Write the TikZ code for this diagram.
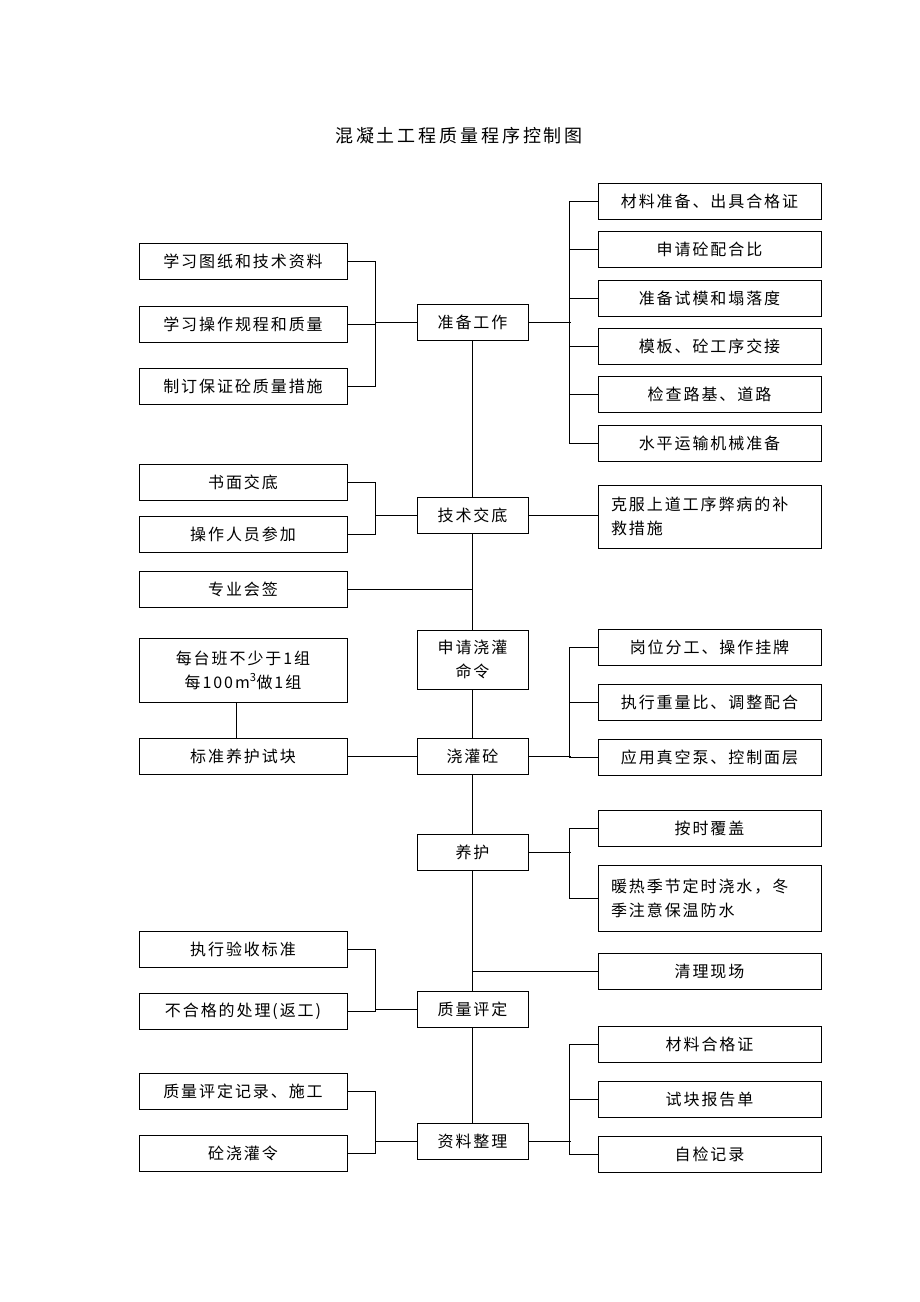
\documentclass[tikz,border=0pt]{standalone}
\usepackage{fontspec}
\setmainfont{Noto Sans CJK SC}[LetterSpace=12]
\begin{document}
\begin{tikzpicture}[x=1pt,y=-1pt]
\tikzset{
 box/.style={draw, line width=1pt, inner sep=0pt, minimum height=36, font=\fontsize{16}{24}\selectfont, align=center},
 lbox/.style={box, minimum width=208},
 mbox/.style={box, minimum width=111},
 rbox/.style={box, minimum width=223},
 link/.style={line width=1pt},
}
\useasboundingbox[fill=white] (0,0) rectangle (920,1302);
\node[font=\fontsize{18}{22}\selectfont\addfontfeature{LetterSpace=16}] (T) at (459,136) {混凝土工程质量程序控制图};
% left
\node[lbox] (L1) at (243,261.5) {学习图纸和技术资料};
\node[lbox] (L2) at (243,324) {学习操作规程和质量};
\node[lbox] (L3) at (243,386) {制订保证砼质量措施};
\node[lbox] (L4) at (243,482) {书面交底};
\node[lbox] (L5) at (243,534.5) {操作人员参加};
\node[lbox] (L6) at (243,589) {专业会签};
\node[lbox, minimum height=64] (L7) at (243,670) {每台班不少于1组\\每100m\textsuperscript{3}做1组};
\node[lbox] (L8) at (243,756) {标准养护试块};
\node[lbox] (L9) at (243,949) {执行验收标准};
\node[lbox] (L10) at (243,1011) {不合格的处理(返工)};
\node[lbox] (L11) at (243,1091.5) {质量评定记录、施工};
\node[lbox] (L12) at (243,1153.5) {砼浇灌令};
% middle
\node[mbox] (M1) at (472.5,322) {准备工作};
\node[mbox] (M2) at (472.5,515) {技术交底};
\node[mbox, minimum height=59] (M3) at (472.5,659.5) {申请浇灌\\命令};
\node[mbox] (M4) at (472.5,756) {浇灌砼};
\node[mbox] (M5) at (472.5,852) {养护};
\node[mbox] (M6) at (472.5,1009) {质量评定};
\node[mbox] (M7) at (472.5,1141) {资料整理};
% right
\node[rbox] (R1) at (709.5,201) {材料准备、出具合格证};
\node[rbox] (R2) at (709.5,249) {申请砼配合比};
\node[rbox] (R3) at (709.5,298) {准备试模和塌落度};
\node[rbox] (R4) at (709.5,346) {模板、砼工序交接};
\node[rbox] (R5) at (709.5,394.5) {检查路基、道路};
\node[rbox] (R6) at (709.5,443) {水平运输机械准备};
\node[rbox, minimum height=63, text width=197, align=left] (R7) at (709.5,516.5) {克服上道工序弊病的补\\救措施};
\node[rbox] (R8) at (709.5,647.5) {岗位分工、操作挂牌};
\node[rbox] (R9) at (709.5,702.5) {执行重量比、调整配合};
\node[rbox] (R10) at (709.5,757) {应用真空泵、控制面层};
\node[rbox] (R11) at (709.5,828) {按时覆盖};
\node[rbox, minimum height=66, text width=197, align=left] (R12) at (709.5,898) {暖热季节定时浇水，冬\\季注意保温防水};
\node[rbox] (R13) at (709.5,971.5) {清理现场};
\node[rbox] (R14) at (709.5,1044) {材料合格证};
\node[rbox] (R15) at (709.5,1099) {试块报告单};
\node[rbox] (R16) at (709.5,1154) {自检记录};
% central spine
\draw[link] (M1) -- (M2) -- (M3) -- (M4) -- (M5) -- (M6) -- (M7);
% M1
\draw[link] (L1.east) -- ++(28,0) |- (L3.east);
\draw[link] (L2.east) -- ++(28,0);
\draw[link] (M1.west) -- ++(-42,0);
\draw[link] (R1.west) -- ++(-28,0) |- (R6.west);
\foreach \r in {R2,R3,R4,R5} \draw[link] (\r.west) -- ++(-28,0);
\draw[link] (M1.east) -- ++(42,0);
% M2
\draw[link] (L4.east) -- ++(28,0) |- (L5.east);
\draw[link] (M2.west) -- ++(-42,0);
\draw[link] (M2.east) -- (M2.east -| R7.west);
\draw[link] (L6.east) -- (L6.east -| M2.south);
% M4
\draw[link] ([xshift=-7]L7.south) -- ([xshift=-7]L8.north);
\draw[link] (L8.east) -- (L8.east -| M4.west);
\draw[link] (R8.west) -- ++(-28,0) |- (R10.west);
\draw[link] (R9.west) -- ++(-28,0);
\draw[link] (M4.east) -- ++(42,0);
% M5
\draw[link] (R11.west) -- ++(-28,0) |- (R12.west);
\draw[link] (M5.east) -- ++(42,0);
\draw[link] (R13.west) -- (R13.west -| M5.south);
% M6
\draw[link] (L9.east) -- ++(28,0) |- (L10.east);
\draw[link] (M6.west) -- ++(-42,0);
% M7
\draw[link] (L11.east) -- ++(28,0) |- (L12.east);
\draw[link] (M7.west) -- ++(-42,0);
\draw[link] (R14.west) -- ++(-28,0) |- (R16.west);
\draw[link] (R15.west) -- ++(-28,0);
\draw[link] (M7.east) -- ++(42,0);
\end{tikzpicture}
\end{document}
